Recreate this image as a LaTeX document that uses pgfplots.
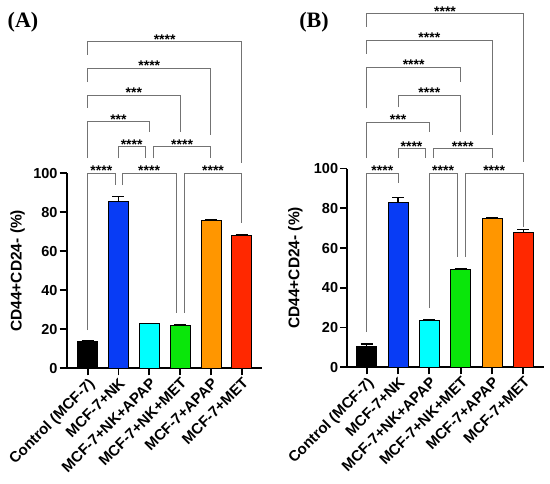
\documentclass[border=0pt]{standalone}
\usepackage{fontspec}
\setmainfont{Liberation Sans}
\newfontfamily\timesfont{Liberation Serif}
\usepackage{pgfplots}
\pgfplotsset{compat=1.18}
\definecolor{cBlack}{RGB}{0,0,0}
\definecolor{cBlue}{RGB}{8,60,245}
\definecolor{cCyan}{RGB}{0,255,255}
\definecolor{cGreen}{RGB}{10,230,10}
\definecolor{cOrange}{RGB}{255,150,0}
\definecolor{cRed}{RGB}{255,40,0}
\definecolor{brkgray}{RGB}{115,115,115}
\tikzset{brk/.style={draw=brkgray,line width=0.8pt},
  stars/.style={font=\bfseries\fontsize{14}{14}\selectfont,anchor=base,inner sep=0pt,yshift=-2.5pt}}
% x1, ybottom1, x2, ybottom2, level, mid, stars
\newcommand{\brk}[7]{%
  \draw[brk] (axis cs:#1,#2) -- (axis cs:#1,#5) -- (axis cs:#3,#5) -- (axis cs:#3,#4);
  \node[stars] at (axis cs:#6,#5) {#7};}
\pgfplotsset{
  panel/.style={
    scale only axis, clip=false,
    axis lines=left,
    axis line style={line width=1.8pt,-},
    ymin=0, ymax=100,
    ytick={0,20,40,60,80,100},
    yticklabels={0,20,40,60,80,100},
    xtick={0,1,2,3,4,5},
    xticklabels={Control (MCF-7),MCF-7+NK,MCF-7+NK+APAP,MCF-7+NK+MET,MCF-7+APAP,MCF-7+MET},
    tick align=outside,
    major tick length=7pt,
    tick style={line width=1.8pt,black},
    yticklabel style={font=\bfseries\fontsize{14.5}{14.5}\selectfont,inner sep=2pt},
    xticklabel style={font=\bfseries\fontsize{15}{15}\selectfont,rotate=45,anchor=north east,inner sep=1pt},
    ylabel={CD44+CD24- (\%)},
    ylabel style={font=\bfseries\fontsize{15.5}{15.5}\selectfont,at={(axis description cs:0,0.5)},anchor=center,rotate=0},
  },
  bar/.style={ybar, bar shift=0pt, bar width=20pt, draw=black, line width=0.6pt, fill=#1,
    error bars/.cd, y dir=plus, y explicit,
    error bar style={line width=1.1pt,black},
    error mark options={rotate=90,mark size=6pt,line width=1.1pt,black}},
}
\begin{document}
\begin{tikzpicture}
\useasboundingbox (0,0) rectangle (550pt,483pt);
\node[font=\timesfont\bfseries\fontsize{22}{22}\selectfont] at (23pt,461pt) {(A)};
\node[font=\timesfont\bfseries\fontsize{22}{22}\selectfont] at (314pt,461pt) {(B)};
% Panel A
\begin{axis}[panel, at={(66.7pt,114.7pt)}, anchor=south west,
  width=195.3pt, height=195pt, xmin=-0.68, xmax=5.66,
  ylabel style={yshift=49pt}]
\addplot[bar=cBlack] coordinates {(0,13.6) +- (0,0.4)};
\addplot[bar=cBlue] coordinates {(1,85.8) +- (0,2.2)};
\addplot[bar=cCyan] coordinates {(2,23.1) +- (0,0.1)};
\addplot[bar=cGreen] coordinates {(3,22.2) +- (0,0.1)};
\addplot[bar=cOrange] coordinates {(4,76.0) +- (0,0.4)};
\addplot[bar=cRed] coordinates {(5,68.0) +- (0,0.8)};
\brk{0}{19.6}{0.89}{94}{100}{0.445}{****}
\brk{1.12}{94}{2.87}{28.4}{100}{1.995}{****}
\brk{3.14}{28.4}{5}{74.5}{100}{4.07}{****}
\brk{1}{107.7}{1.86}{107.7}{113.6}{1.43}{****}
\brk{2.13}{107.7}{4}{107.7}{113.6}{3.065}{****}
\brk{0}{107.8}{2}{121.2}{126.5}{1}{***}
\brk{0}{133.5}{3}{121.2}{140.2}{1.5}{***}
\brk{0}{146.8}{4}{119.6}{153.8}{2}{****}
\brk{0}{160.7}{5}{105.4}{167.5}{2.5}{****}
\end{axis}
% Panel B
\begin{axis}[panel, at={(347.3pt,115.7pt)}, anchor=south west,
  width=197pt, height=198.8pt, xmin=-0.62, xmax=5.67,
  ylabel style={yshift=52pt}]
\addplot[bar=cBlack] coordinates {(0,10.7) +- (0,1.0)};
\addplot[bar=cBlue] coordinates {(1,82.9) +- (0,2.5)};
\addplot[bar=cCyan] coordinates {(2,23.8) +- (0,0.1)};
\addplot[bar=cGreen] coordinates {(3,49.4) +- (0,0.2)};
\addplot[bar=cOrange] coordinates {(4,74.9) +- (0,0.5)};
\addplot[bar=cRed] coordinates {(5,68.1) +- (0,1.2)};
\brk{0}{17.7}{1}{92.6}{97.5}{0.5}{****}
\brk{2}{29.8}{2.88}{55.4}{97.5}{2.44}{****}
\brk{3.14}{55.4}{5}{70.5}{97.5}{4.07}{****}
\brk{1}{105.2}{1.86}{105.2}{110}{1.43}{****}
\brk{2.13}{105.2}{4}{105.2}{110}{3.065}{****}
\brk{0}{105.2}{2}{118.2}{123.4}{1}{***}
\brk{1}{130.8}{3}{118.2}{136.8}{2}{****}
\brk{0}{130.2}{3}{143.5}{151}{1.5}{****}
\brk{0}{157.8}{4}{116.7}{164.5}{2}{****}
\brk{0}{171.2}{5}{103.2}{177.9}{2.5}{****}
\end{axis}
\end{tikzpicture}
\end{document}
